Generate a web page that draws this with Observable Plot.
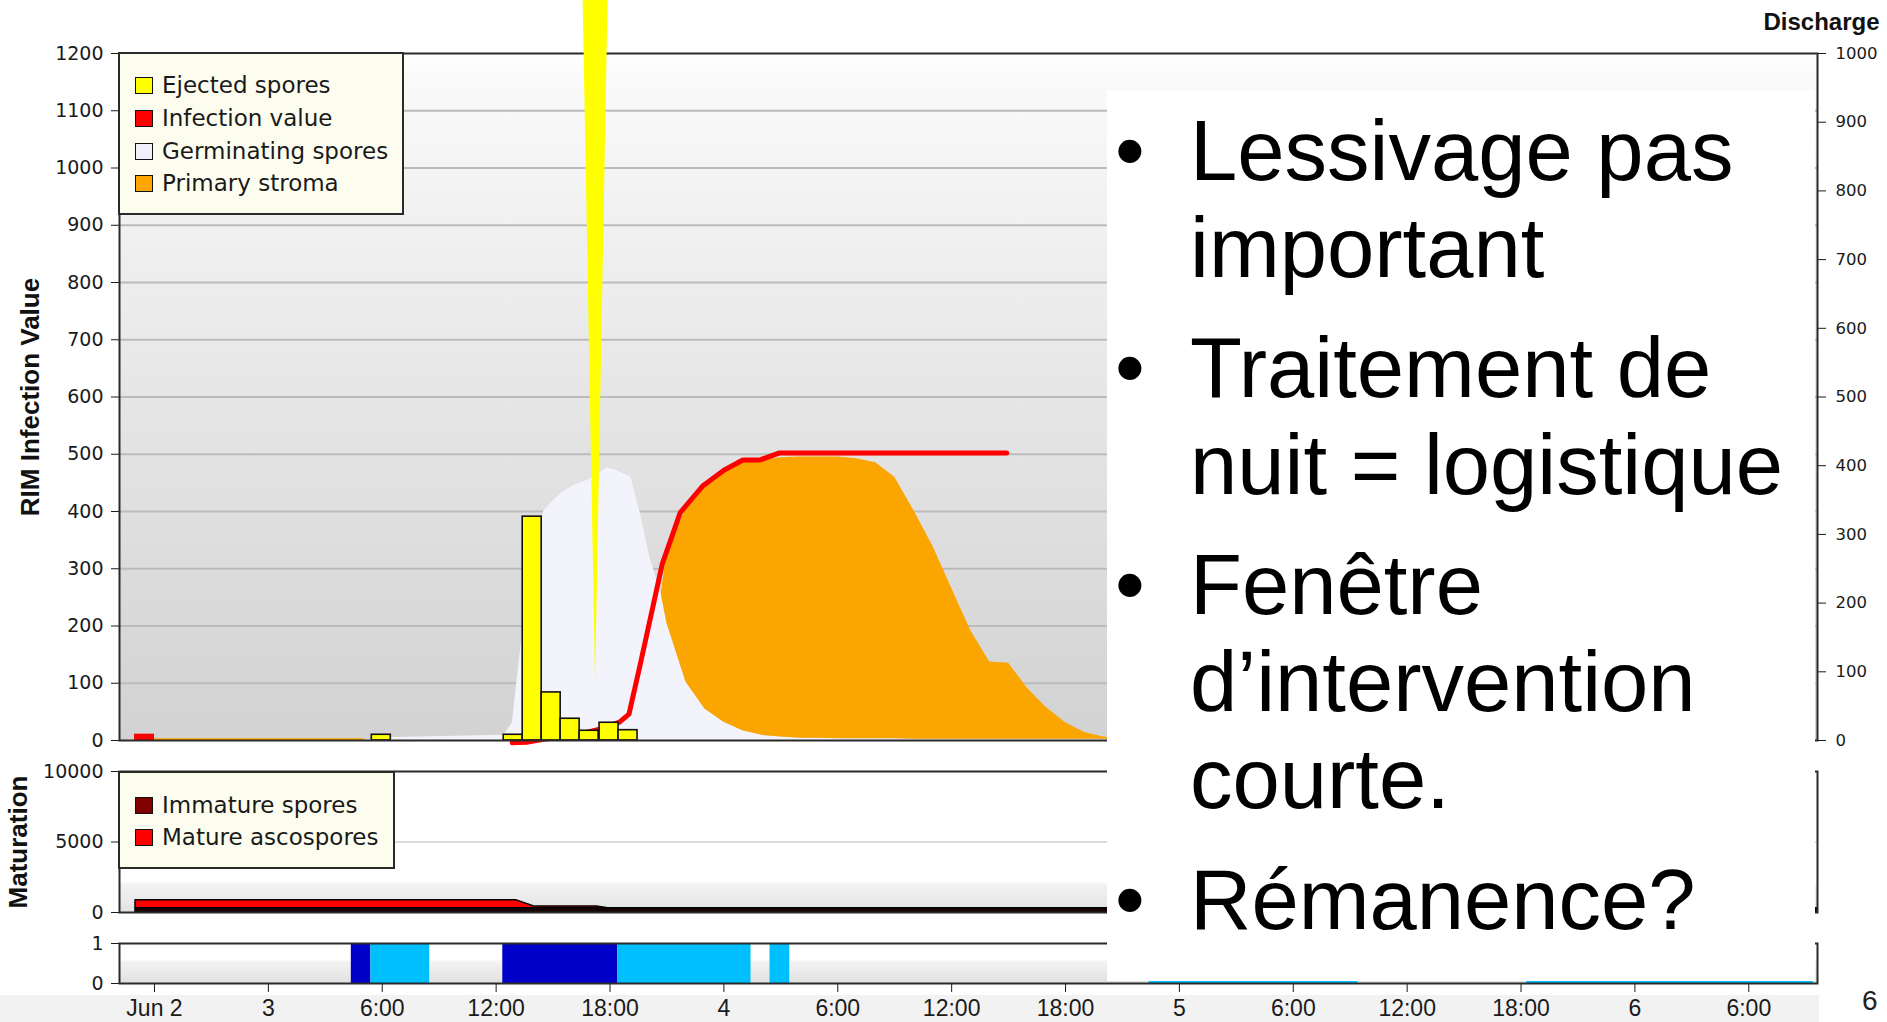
<!DOCTYPE html>
<html>
<head>
<meta charset="utf-8">
<script src="https://cdn.jsdelivr.net/npm/d3@7"></script>
<script src="https://cdn.jsdelivr.net/npm/@observablehq/plot@0.6"></script>
<style>
  html, body { margin: 0; padding: 0; background: #fff; }
  #stage { position: relative; width: 1887px; height: 1022px; overflow: hidden; background: #fff; }
  .abs { position: absolute; }
  .legend { position: absolute; box-sizing: border-box; border: 2px solid #2a2a2a; background: #fdfdef;
            font-family: "DejaVu Sans", Verdana, sans-serif; font-size: 23px; color: #1a1a1a; }
  .legend .row { position: absolute; left: 15px; height: 32px; display: flex; align-items: center; white-space: nowrap; }
  .legend .sw { width: 16px; height: 15px; border: 1.5px solid #111; margin-right: 9px; }
  #note { position: absolute; background: #fff; font-family: "Liberation Sans", Arial, sans-serif;
          font-size: 85px; line-height: 97px; color: #000; }
  #note .item { position: absolute; left: 0; white-space: nowrap; }
  #note .bullet { position: absolute; left: 8px; top: 0; }
  #note .txt { position: absolute; left: 83px; top: 0; }
</style>
</head>
<body>
<div id="stage"></div>
<script>
// ---------------- data ----------------
const tickHours  = [0, 6, 12, 18, 24, 30, 36, 42, 48, 54, 60, 66, 72, 78, 84];
const tickLabels = ["Jun 2", "3", "6:00", "12:00", "18:00", "4", "6:00", "12:00", "18:00", "5", "6:00", "12:00", "18:00", "6", "6:00"];
const leftTicks  = [0, 100, 200, 300, 400, 500, 600, 700, 800, 900, 1000, 1100, 1200];
const rightTicks = [0, 100, 200, 300, 400, 500, 600, 700, 800, 900, 1000];
const matTicks   = [0, 5000, 10000];
const stripTicks = [0, 1];

// Ejected spores (hourly bars, centre hour)
const ejectedHours  = [11.95, 18.9, 19.9, 20.9, 21.9, 22.9, 23.95, 24.95];
const ejectedSpores = [10, 10, 391, 84, 38, 17, 31, 18];

// Infection value (line)
const infectionHours  = [18.85, 19.6, 20.5, 21.5, 22.5, 23.5, 24.5, 25.0, 25.6, 26.75, 27.7, 28.0, 28.9, 30.0, 31.0, 31.9, 32.9, 44.9];
const infectionValues = [-4, -3, 2, 6, 12, 20, 32, 46, 134, 308, 398, 410, 445, 472, 490, 490, 502, 502];
const earlyInfectionSpan  = [-1.05, 0];
const earlyInfectionValue = 11;

// Germinating spores and primary stroma (stroma stacked on top)
const areaHours   = [0, 11, 11.1, 12, 18.4, 18.85, 19.3, 19.9, 20.5, 20.9, 21.4, 22.1, 22.8, 23.85, 24.3, 25.1, 25.6, 26.1, 26.7, 27,
                     28, 29, 30, 31, 32, 33, 34, 35, 36, 37, 38, 39, 40, 41, 42, 43, 44, 45, 46, 47, 48, 49, 50, 51, 52, 53];
const germinating = [0, 0, 0, 5, 9, 30, 163, 330, 400, 415, 431, 446, 454, 476, 472, 460, 396, 320, 256, 205,
                     102, 55, 32, 17, 9, 6, 4, 4, 3, 3, 3, 3, 2, 2, 2, 2, 2, 2, 2, 2, 2, 2, 2, 2, 2, 2];
const stroma      = [3, 3, 0, 0, 0, 0, 0, 0, 0, 0, 0, 0, 0, 0, 0, 0, 0, 0, 0, 125,
                     303, 390, 438, 469, 481, 488, 491, 491, 492, 489, 482, 457, 400, 338, 264, 190, 135, 133, 89, 55, 29, 12, 4, 1, 0, 0];

// yellow call-out wedge
const wedgeValues = [99, 1300];
const wedgeLeft   = [23.24, 22.58];
const wedgeRight  = [23.24, 23.9];

// Maturation
const matHours = [-1, 19.05, 20, 23.3, 23.9, 87.6];
const mature   = [575, 575, 120, 120, 0, 0];
const immature = [300, 300, 300, 300, 300, 300];

// wetness strip
const wetStart = [10.37, 11.4, 18.35, 24.41, 32.43, 52.4, 72.3];
const wetEnd   = [11.4, 14.5, 24.41, 31.43, 33.47, 63.4, 87.4];
const wetType  = ["dark", "light", "dark", "light", "light", "light", "light"];

const topLegendLabels = ["Ejected spores", "Infection value", "Germinating spores", "Primary stroma"];
const topLegendColors = ["#ffff00", "#ff0000", "#f0f0fa", "#ffa500"];
const matLegendLabels = ["Immature spores", "Mature ascospores"];
const matLegendColors = ["#800000", "#ff0000"];

const noteItems = [
  ["Lessivage pas", "important"],
  ["Traitement de", "nuit = logistique"],
  ["Fenêtre", "d’intervention", "courte."],
  ["Rémanence?"]
];
const slideNumber = "6";

// ---------------- build ----------------
const W = 1887;
const xDomain = [-1.844, 87.62];
const boldFont = "'Liberation Sans', Arial, sans-serif";
const stage = document.getElementById("stage");
const baseStyle = {position: "absolute", left: "0px", top: "0px", background: "transparent",
  color: "#1a1a1a", fontFamily: "'DejaVu Sans', Verdana, sans-serif", fontSize: "18px"};

function addGradient(svg, id, stops) {
  const g = d3.select(svg).insert("defs", ":first-child").append("linearGradient")
    .attr("id", id).attr("x1", 0).attr("y1", 0).attr("x2", 0).attr("y2", 1);
  for (const [o, c] of stops) g.append("stop").attr("offset", o).attr("stop-color", c);
}

// x-label band
const band = document.createElement("div");
band.className = "abs";
Object.assign(band.style, {left: "0px", top: "995px", width: "1819px", height: "27px", background: "#f2f2f2"});
stage.appendChild(band);

const areaRows = areaHours.map((h, i) => ({h, germ: germinating[i], top: germinating[i] + stroma[i]}));
const infRows = infectionHours.map((h, i) => ({h, v: infectionValues[i]}));
const ejRows = ejectedHours.map((h, i) => ({h, v: ejectedSpores[i]}));
const wedgeRows = wedgeValues.map((v, i) => ({v, lo: wedgeLeft[i], hi: wedgeRight[i]}));
const earlyInf = [{from: earlyInfectionSpan[0], to: earlyInfectionSpan[1], v: earlyInfectionValue}];

const topPlot = Plot.plot({
  width: W, height: 762, marginTop: 53, marginBottom: 22, marginLeft: 119, marginRight: 70,
  x: {domain: xDomain, axis: null},
  y: {domain: [0, 1200]},
  style: baseStyle,
  marks: [
    Plot.frame({fill: "url(#gTop)"}),
    Plot.ruleY(leftTicks.filter(v => v > 0 && v < 1200), {stroke: "#bbbbbb", strokeWidth: 2}),
    Plot.areaY(areaRows, {x: "h", y1: 0, y2: "germ", fill: "#f3f3fc"}),
    Plot.areaY(areaRows, {x: "h", y1: "germ", y2: "top", fill: "#fba500"}),
    Plot.line(infRows, {x: "h", y: "v", stroke: "#ff0000", strokeWidth: 5, strokeLinejoin: "round"}),
    Plot.rectY(earlyInf, {x1: "from", x2: "to", y1: 0, y2: "v", fill: "#ff0000"}),
    Plot.rectY(ejRows, {x1: d => d.h - 0.5, x2: d => d.h + 0.5, y1: 0, y2: "v", fill: "#ffff00", stroke: "#111", strokeWidth: 1.6}),
    Plot.axisY({ticks: leftTicks, tickSize: 8, tickPadding: 8, tickFormat: d => String(d), label: null, fontSize: 19}),
    Plot.frame({stroke: "#2a2a2a", strokeWidth: 2}),
    Plot.text(["RIM Infection Value"], {text: d => d, frameAnchor: "left", textAnchor: "middle", dx: -89, rotate: -90,
      fontSize: 26, fontWeight: "bold", fontFamily: boldFont, fill: "#111"}),
    Plot.areaX(wedgeRows, {y: "v", x1: "lo", x2: "hi", fill: "#ffff00"})
  ]
});
addGradient(topPlot, "gTop", [["0", "#ffffff"], ["0.03", "#fafafa"], ["0.5", "#e6e6e6"], ["1", "#d2d2d2"]]);
stage.appendChild(topPlot);

const rightPlot = Plot.plot({
  width: W, height: 762, marginTop: 53, marginBottom: 22, marginLeft: 119, marginRight: 70,
  x: {domain: xDomain, axis: null},
  y: {domain: [0, 1000]},
  style: baseStyle,
  marks: [
    Plot.axisY({ticks: rightTicks, anchor: "right", tickSize: 8, tickPadding: 10, tickFormat: d => String(d), label: null, fontSize: 16.5}),
    Plot.text(["Discharge"], {text: d => d, frameAnchor: "top-right", dx: 62, dy: -41, textAnchor: "end",
      fontSize: 24, fontWeight: "bold", fontFamily: boldFont, fill: "#111"})
  ]
});
stage.appendChild(rightPlot);

const matRows = matHours.map((h, i) => ({h, imm: immature[i], tot: immature[i] + mature[i]}));
const matPlot = Plot.plot({
  width: W, height: 930, marginTop: 771, marginBottom: 18, marginLeft: 119, marginRight: 70,
  x: {domain: xDomain, axis: null},
  y: {domain: [0, 10000]},
  style: baseStyle,
  marks: [
    Plot.frame({fill: "url(#gMat)"}),
    Plot.ruleY(matTicks.filter(v => v > 0 && v < 10000), {stroke: "#cfcfcf", strokeWidth: 1.5}),
    Plot.areaY(matRows, {x: "h", y1: "imm", y2: "tot", fill: "#ff0000", stroke: "#000", strokeWidth: 1.5}),
    Plot.areaY(matRows, {x: "h", y1: 0, y2: "imm", fill: "#1a0000", stroke: "#000", strokeWidth: 1.5}),
    Plot.axisY({ticks: matTicks, tickSize: 8, tickPadding: 8, tickFormat: d => String(d), label: null, fontSize: 19}),
    Plot.frame({stroke: "#2a2a2a", strokeWidth: 2}),
    Plot.text(["Maturation"], {text: d => d, frameAnchor: "left", textAnchor: "middle", dx: -101, rotate: -90,
      fontSize: 26, fontWeight: "bold", fontFamily: boldFont, fill: "#111"})
  ]
});
addGradient(matPlot, "gMat", [["0", "#ffffff"], ["0.78", "#ffffff"], ["0.8", "#f3f3f3"], ["1", "#e2e2e2"]]);
stage.appendChild(matPlot);

const wetRows = wetStart.map((s, i) => ({from: s, to: wetEnd[i], type: wetType[i]}));
const stripPlot = Plot.plot({
  width: W, height: 1022, marginTop: 943, marginBottom: 39, marginLeft: 119, marginRight: 70,
  x: {domain: xDomain},
  y: {domain: [0, 1]},
  style: baseStyle,
  marks: [
    Plot.frame({fill: "url(#gStrip)"}),
    Plot.rectY(wetRows.filter(d => d.type === "dark"), {x1: "from", x2: "to", y1: 0, y2: 1, fill: "#0000c8"}),
    Plot.rectY(wetRows.filter(d => d.type === "light"), {x1: "from", x2: "to", y1: 0, y2: 1, fill: "#00bfff"}),
    Plot.axisY({ticks: stripTicks, tickSize: 8, tickPadding: 8, tickFormat: d => String(d), label: null, fontSize: 19}),
    Plot.axisX({ticks: tickHours, tickSize: 9, tickPadding: 7, tickFormat: d => tickLabels[tickHours.indexOf(d)],
      label: null, fontSize: 23, fontFamily: boldFont}),
    Plot.frame({stroke: "#2a2a2a", strokeWidth: 2})
  ]
});
addGradient(stripPlot, "gStrip", [["0", "#ffffff"], ["0.4", "#ffffff"], ["0.45", "#f3f3f3"], ["1", "#e0e0e0"]]);
stage.appendChild(stripPlot);

// legends
function legend(left, top, width, height, labels, colors, rowTops) {
  const box = document.createElement("div");
  box.className = "legend";
  Object.assign(box.style, {left: left + "px", top: top + "px", width: width + "px", height: height + "px"});
  labels.forEach((lab, i) => {
    const row = document.createElement("div");
    row.className = "row";
    row.style.top = rowTops[i] + "px";
    const sw = document.createElement("div");
    sw.className = "sw";
    sw.style.background = colors[i];
    const t = document.createElement("span");
    t.textContent = lab;
    row.appendChild(sw); row.appendChild(t);
    box.appendChild(row);
  });
  stage.appendChild(box);
}
legend(118, 52, 286, 163, topLegendLabels, topLegendColors, [15, 48, 81, 113]);
legend(118, 771, 277, 98, matLegendLabels, matLegendColors, [16, 48]);

// text overlay
const note = document.createElement("div");
note.id = "note";
Object.assign(note.style, {left: "1107px", top: "90px", width: "708px", height: "891px"});
const itemTops = [12, 229, 446, 761];
noteItems.forEach((lines, i) => {
  const it = document.createElement("div");
  it.className = "item";
  it.style.top = itemTops[i] + "px";
  const b = document.createElement("span");
  b.className = "bullet"; b.textContent = "•";
  const t = document.createElement("div");
  t.className = "txt";
  lines.forEach(l => { const d = document.createElement("div"); d.textContent = l; t.appendChild(d); });
  it.appendChild(b); it.appendChild(t);
  note.appendChild(it);
});
stage.appendChild(note);

const num = document.createElement("div");
num.className = "abs";
num.textContent = slideNumber;
Object.assign(num.style, {left: "1862px", top: "985px", fontFamily: "'Liberation Sans', Arial, sans-serif", fontSize: "28px", color: "#222"});
stage.appendChild(num);
</script>
</body>
</html>
